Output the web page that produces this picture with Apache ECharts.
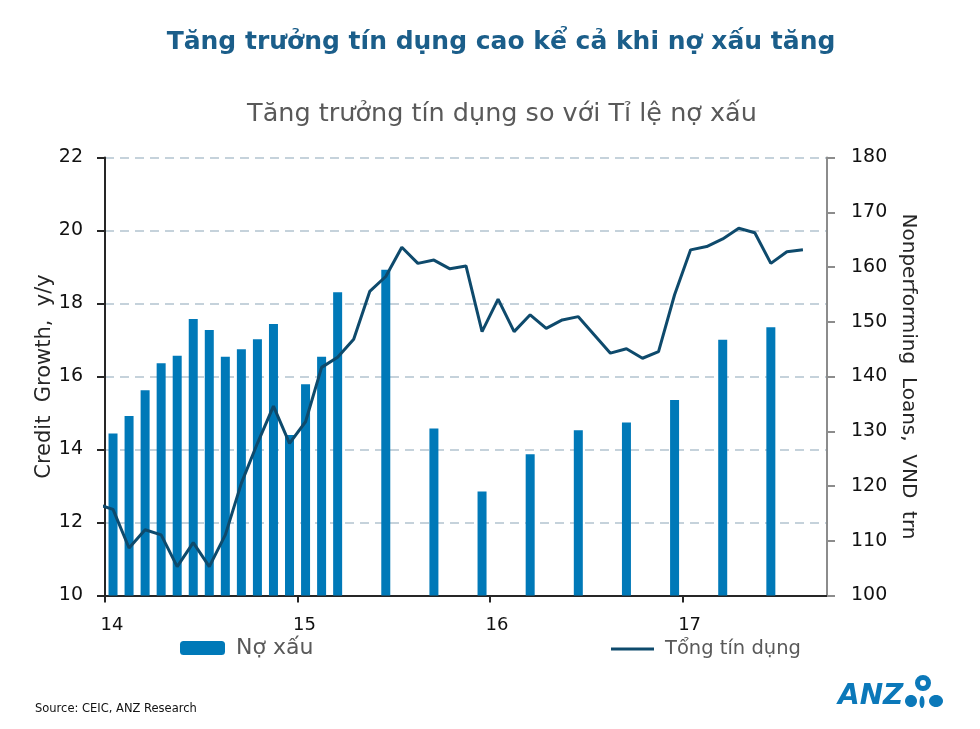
<!DOCTYPE html>
<html>
<head>
<meta charset="utf-8">
<script src="https://cdn.jsdelivr.net/npm/echarts@6/dist/echarts.min.js"></script>
<style>
html,body{margin:0;padding:0;background:#fff;}
#c{width:980px;height:729px;}
</style>
</head>
<body>
<div id="c"></div>
<script>
// ---- data ----
const xTickLabels = ['14', '15', '16', '17'];
const xTickMonths = [0, 12, 24, 36];

const nplDates = ['2014-01','2014-02','2014-03','2014-04','2014-05','2014-06','2014-07','2014-08','2014-09','2014-10','2014-11','2014-12','2015-01','2015-02','2015-03',
  '2015-06','2015-09','2015-12','2016-03','2016-06','2016-09','2016-12','2017-03','2017-06'];
const nplValues = [129.6,132.8,137.5,142.4,143.8,150.5,148.5,143.6,145.0,146.8,149.6,129.3,138.6,143.6,155.4,
  159.5,130.5,119.0,125.8,130.2,131.6,135.7,146.7,149.0];

const creditDates = ['2013-12',
  '2014-01','2014-02','2014-03','2014-04','2014-05','2014-06','2014-07','2014-08','2014-09','2014-10','2014-11','2014-12',
  '2015-01','2015-02','2015-03','2015-04','2015-05','2015-06','2015-07','2015-08','2015-09','2015-10','2015-11','2015-12',
  '2016-01','2016-02','2016-03','2016-04','2016-05','2016-06','2016-07','2016-08','2016-09','2016-10','2016-11','2016-12',
  '2017-01','2017-02','2017-03','2017-04','2017-05','2017-06','2017-07','2017-08'];
const creditValues = [12.5,
  12.36,11.30,11.80,11.66,10.79,11.45,10.79,11.66,13.08,14.17,15.19,14.17,
  14.76,16.25,16.53,17.02,18.33,18.74,19.54,19.10,19.19,18.95,19.03,17.23,
  18.12,17.23,17.69,17.32,17.55,17.64,17.14,16.64,16.76,16.50,16.68,18.24,
  19.47,19.56,19.77,20.06,19.94,19.10,19.42,19.47];

const titleText = 'Tăng trưởng tín dụng cao kể cả khi nợ xấu tăng';
const subtitleText = 'Tăng trưởng tín dụng so với Tỉ lệ nợ xấu';
const sourceText = 'Source: CEIC, ANZ Research';

// month position (Jan 2014 start = 0), points at mid-month
function monthPos(d) {
  const p = d.split('-');
  return (parseInt(p[0], 10) - 2014) * 12 + (parseInt(p[1], 10) - 1) + 0.5;
}

const FONT = '"DejaVu Sans", Verdana, sans-serif';
const BAR_COLOR = '#0079b8';
const LINE_COLOR = '#0e4a6c';
const LOGO = '#0b78b9';

const chart = echarts.init(document.getElementById('c'), null, {renderer: 'canvas'});

const option = {
  backgroundColor: '#ffffff',
  animation: false,
  textStyle: {fontFamily: FONT},
  grid: {left: 105, right: 153, top: 157.5, bottom: 133.5, containLabel: false},
  legend: [
    {
      data: [{name: 'Nợ xấu', icon: 'roundRect'}],
      left: 175, top: 632,
      itemWidth: 45, itemHeight: 14,
      textStyle: {fontSize: 22, color: '#595959', fontFamily: FONT, padding: [0, 0, 0, 6]}
    },
    {
      data: [{name: 'Tổng tín dụng', icon: 'rect'}],
      left: 606, top: 634,
      itemWidth: 43, itemHeight: 3,
      textStyle: {fontSize: 19.5, color: '#595959', fontFamily: FONT, padding: [0, 0, 0, 6]}
    }
  ],
  xAxis: {
    type: 'value',
    min: 0, max: 45, interval: 12,
    splitLine: {show: false},
    axisLine: {show: true, lineStyle: {color: '#262626', width: 2}},
    axisTick: {show: true, length: 7, customValues: xTickMonths, lineStyle: {color: '#262626', width: 2}},
    axisLabel: {
      customValues: xTickMonths,
      margin: 21,
      fontSize: 18, color: '#111', fontFamily: FONT,
      align: 'center',
      padding: [0, 0, 0, 14],
      formatter: function (v) {
        const i = xTickMonths.indexOf(Math.round(v));
        return i >= 0 ? xTickLabels[i] : '';
      }
    }
  },
  yAxis: [
    {
      type: 'value',
      position: 'left',
      min: 10, max: 22, interval: 2,
      name: 'Credit  Growth,  y/y',
      nameLocation: 'middle',
      nameGap: 50,
      nameMoveOverlap: false,
      nameTextStyle: {fontSize: 21, color: '#262626', fontFamily: FONT},
      axisLine: {show: true, lineStyle: {color: '#262626', width: 2}},
      axisTick: {show: true, length: 8, lineStyle: {color: '#262626', width: 2}},
      axisLabel: {margin: 22, fontSize: 19, color: '#111', fontFamily: FONT},
      splitLine: {show: true, lineStyle: {color: '#c5d2db', width: 2, type: [9, 6]}}
    },
    {
      type: 'value',
      position: 'right',
      min: 100, max: 180, interval: 10,
      name: 'Nonperforming  Loans,  VND  trn',
      nameLocation: 'middle',
      nameRotate: -90,
      nameGap: 64,
      nameTextStyle: {fontSize: 20, color: '#262626', fontFamily: FONT},
      axisLine: {show: true, lineStyle: {color: '#8c8c8c', width: 2}},
      axisTick: {show: true, length: 8, lineStyle: {color: '#8c8c8c', width: 2}},
      axisLabel: {margin: 24, fontSize: 19, color: '#111', fontFamily: FONT},
      splitLine: {show: false}
    }
  ],
  series: [
    {
      name: 'Nợ xấu',
      type: 'bar',
      yAxisIndex: 1,
      barWidth: 9,
      itemStyle: {color: BAR_COLOR},
      data: nplDates.map(function (d, i) { return [monthPos(d), nplValues[i]]; })
    },
    {
      name: 'Tổng tín dụng',
      type: 'line',
      yAxisIndex: 0,
      showSymbol: false,
      symbol: 'none',
      clip: true,
      lineStyle: {color: LINE_COLOR, width: 3},
      itemStyle: {color: LINE_COLOR},
      data: creditDates.map(function (d, i) { return [monthPos(d), creditValues[i]]; })
    }
  ],
  graphic: [
    {type: 'text', x: 501, y: 42, style: {text: titleText, align: 'center', verticalAlign: 'middle',
      font: 'bold 25px ' + FONT, fill: '#1b5e8a'}},
    {type: 'text', x: 502, y: 114, style: {text: subtitleText, align: 'center', verticalAlign: 'middle',
      font: '25.5px ' + FONT, fill: '#595959'}},
    {type: 'text', x: 35, y: 709, style: {text: sourceText, align: 'left', verticalAlign: 'middle',
      font: '11.5px ' + FONT, fill: '#111'}},
    {type: 'text', x: 838, y: 697, style: {text: 'ANZ', align: 'left', verticalAlign: 'middle',
      font: 'italic bold 28px ' + FONT, fill: LOGO}},
    {type: 'circle', shape: {cx: 923, cy: 683, r: 5.5}, style: {fill: 'none', stroke: LOGO, lineWidth: 5}},
    {type: 'ellipse', shape: {cx: 911, cy: 701, rx: 6, ry: 6}, style: {fill: LOGO}},
    {type: 'ellipse', shape: {cx: 922, cy: 702, rx: 2.5, ry: 6}, style: {fill: LOGO}},
    {type: 'ellipse', shape: {cx: 936, cy: 701, rx: 7, ry: 6}, style: {fill: LOGO}}
  ]
};

chart.setOption(option);
</script>
</body>
</html>
